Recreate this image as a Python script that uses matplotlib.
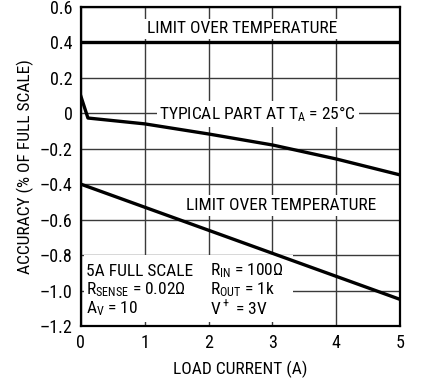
import numpy as np
import matplotlib
matplotlib.use("Agg")
import matplotlib.pyplot as plt
from matplotlib.patches import Rectangle

plt.rcParams['font.family'] = ['Roboto Condensed', 'DejaVu Sans']
plt.rcParams['mathtext.default'] = 'regular'
plt.rcParams['axes.unicode_minus'] = False

# data
limit_x = [0, 5]
upper_limit = [0.4, 0.4]
lower_limit = [-0.40, -1.05]

typ_x = [0, 0.11, 1, 2, 3, 4, 5]
typ_y = [0.095, -0.027, -0.06, -0.117, -0.179, -0.258, -0.348]

xticks = [0, 1, 2, 3, 4, 5]
yticks = [0.6, 0.4, 0.2, 0, -0.2, -0.4, -0.6, -0.8, -1.0, -1.2]
ytick_labels = ['0.6', '0.4', '0.2', '0', '–0.2', '–0.4', '–0.6', '–0.8', '–1.0', '–1.2']

fig = plt.figure(figsize=(4.35, 3.8), dpi=100)
ax = fig.add_axes([0.186, 0.142, 0.734, 0.840])

ax.set_xlim(0, 5)
ax.set_ylim(-1.2, 0.6)
ax.set_xticks(xticks)
ax.set_yticks(yticks)
ax.set_yticklabels(ytick_labels)
ax.tick_params(length=0, labelsize=13, pad=6)
ax.grid(True, color='#3a3a3a', linewidth=1.0, zorder=0.5)
ax.set_axisbelow(True)
for s in ax.spines.values():
    s.set_linewidth(1.6)
    s.set_zorder(5)

# white area behind the conditions text; left/bottom inset so the grid
# shows through as short inward ticks
ax.add_patch(Rectangle((0.05, -1.18), 3.27, 0.38, facecolor='white', edgecolor='none', zorder=1))

ax.plot(limit_x, upper_limit, color='black', linewidth=2.4, zorder=3)
ax.plot(limit_x, lower_limit, color='black', linewidth=2.4, zorder=3)
ax.plot(typ_x, typ_y, color='black', linewidth=2.4, zorder=3)

bb = dict(facecolor='white', edgecolor='none', pad=2)
ax.text(2.52, 0.476, 'LIMIT OVER TEMPERATURE', fontsize=12.5, ha='center', va='center', bbox=bb, zorder=2)
ax.text(2.77, -0.005, 'TYPICAL PART AT T$_A$ = 25°C', fontsize=12.5, ha='center', va='center', bbox=bb, zorder=2)
ax.text(3.14, -0.52, 'LIMIT OVER TEMPERATURE', fontsize=12.5, ha='center', va='center', bbox=bb, zorder=2)

ax.text(0.08, -0.89, '5A FULL SCALE', fontsize=12.5, ha='left', va='center', zorder=4)
ax.text(0.08, -0.997, 'R$_{SENSE}$ = 0.02Ω', fontsize=12.5, ha='left', va='center', zorder=4)
ax.text(0.08, -1.104, 'A$_V$ = 10', fontsize=12.5, ha='left', va='center', zorder=4)
ax.text(2.02, -0.89, 'R$_{IN}$ = 100Ω', fontsize=12.5, ha='left', va='center', zorder=4)
ax.text(2.02, -0.997, 'R$_{OUT}$ = 1k', fontsize=12.5, ha='left', va='center', zorder=4)
ax.text(2.02, -1.104, 'V$^+$ = 3V', fontsize=12.5, ha='left', va='center', zorder=4)

ax.set_xlabel('LOAD CURRENT (A)', fontsize=12.5, labelpad=6)
ax.set_ylabel('ACCURACY (% OF FULL SCALE)', fontsize=12.5, labelpad=4)

fig.savefig('out.png', dpi=100)
